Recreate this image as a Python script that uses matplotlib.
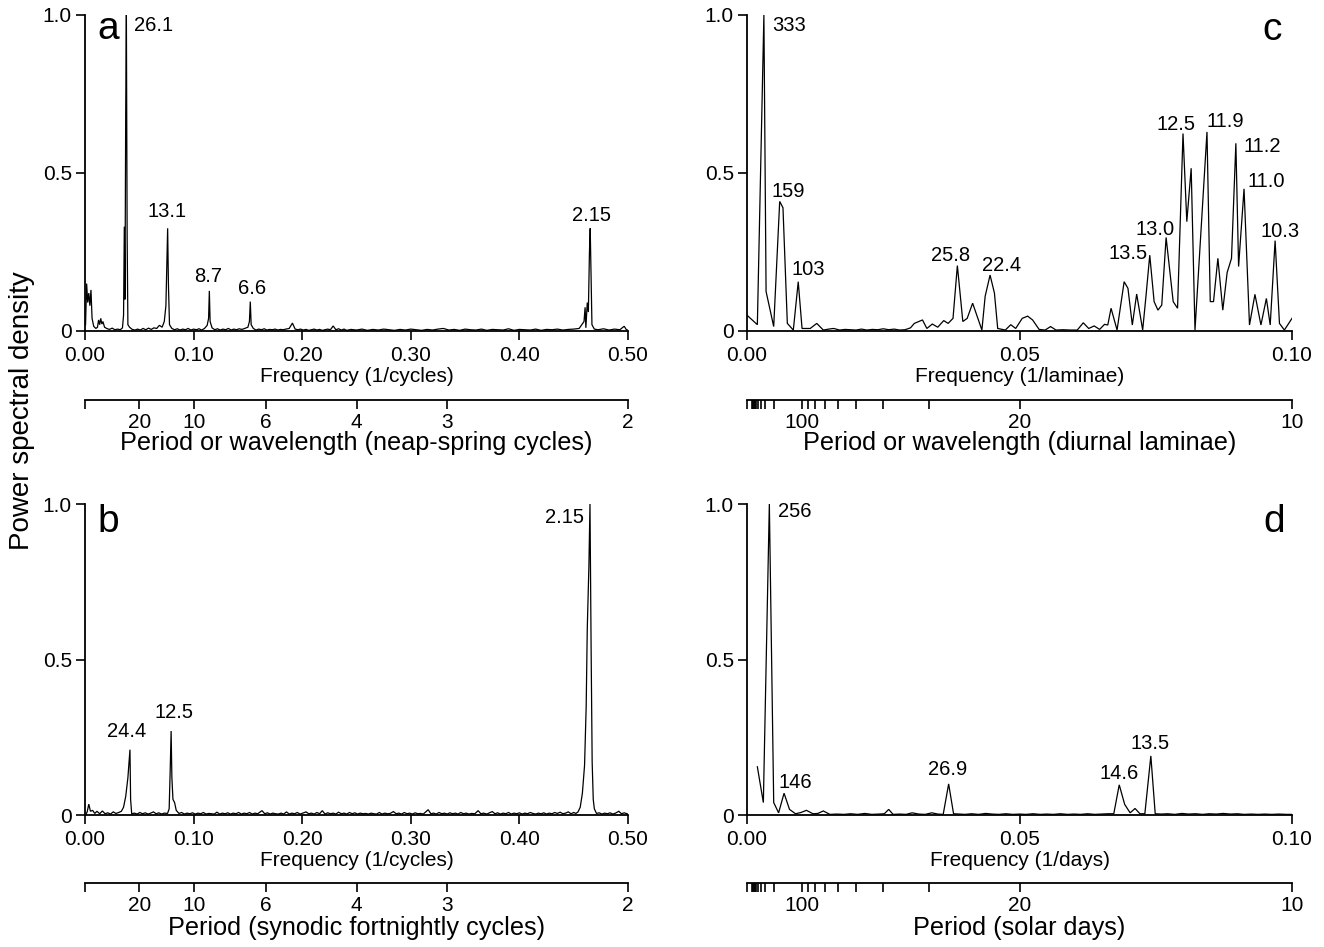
import matplotlib
matplotlib.use("Agg")
import matplotlib.pyplot as plt
import numpy as np

plt.rcParams['font.family'] = ['Liberation Sans', 'DejaVu Sans']

# ---------------- data ----------------
# Panel a: neap-spring cycles, (frequency, normalized power)
spectrum_a = [
    (0.0005, 0.02), (0.0015, 0.15), (0.0025, 0.09), (0.0035, 0.12), (0.0045, 0.08),
    (0.0055, 0.13), (0.0065, 0.04), (0.0080, 0.015), (0.0100, 0.008), (0.0115, 0.012),
    (0.0125, 0.035), (0.0135, 0.020), (0.0145, 0.040), (0.0155, 0.022), (0.0165, 0.030),
    (0.0180, 0.012), (0.0200, 0.008), (0.0225, 0.005), (0.0250, 0.009), (0.0275, 0.004),
    (0.0300, 0.006), (0.0325, 0.004), (0.0345, 0.010), (0.0355, 0.05), (0.0362, 0.33),
    (0.0368, 0.10), (0.0375, 0.70), (0.0381, 1.00), (0.0388, 0.30), (0.0395, 0.02),
    (0.0410, 0.012), (0.0435, 0.005), (0.0460, 0.003), (0.0485, 0.006), (0.0510, 0.003),
    (0.0535, 0.008), (0.0560, 0.004), (0.0585, 0.009), (0.0610, 0.005), (0.0635, 0.010),
    (0.0660, 0.008), (0.0685, 0.018), (0.0710, 0.012), (0.0730, 0.030), (0.0745, 0.080),
    (0.0754, 0.22), (0.0761, 0.325), (0.0768, 0.15), (0.0778, 0.02), (0.0800, 0.008),
    (0.0825, 0.004), (0.0850, 0.007), (0.0875, 0.003), (0.0900, 0.006), (0.0925, 0.004),
    (0.0950, 0.008), (0.0975, 0.003), (0.1000, 0.006), (0.1025, 0.004), (0.1050, 0.007),
    (0.1075, 0.003), (0.1100, 0.008), (0.1125, 0.018), (0.1138, 0.040), (0.1145, 0.127),
    (0.1152, 0.030), (0.1170, 0.010), (0.1195, 0.004), (0.1220, 0.007), (0.1245, 0.003),
    (0.1270, 0.006), (0.1295, 0.004), (0.1320, 0.008), (0.1345, 0.003), (0.1370, 0.006),
    (0.1395, 0.004), (0.1420, 0.007), (0.1445, 0.005), (0.1470, 0.008), (0.1500, 0.012),
    (0.1514, 0.030), (0.1522, 0.093), (0.1530, 0.020), (0.1550, 0.008), (0.1575, 0.003),
    (0.1600, 0.006), (0.1625, 0.004), (0.1650, 0.007), (0.1675, 0.003), (0.1700, 0.005),
    (0.1725, 0.004), (0.1750, 0.006), (0.1775, 0.003), (0.1800, 0.005), (0.1825, 0.004),
    (0.1850, 0.006), (0.1880, 0.008), (0.1910, 0.025), (0.1935, 0.006), (0.1960, 0.004),
    (0.1985, 0.006), (0.2010, 0.003), (0.2035, 0.005), (0.2060, 0.002), (0.2085, 0.004),
    (0.2110, 0.006), (0.2135, 0.003), (0.2160, 0.005), (0.2185, 0.002), (0.2210, 0.004),
    (0.2235, 0.006), (0.2260, 0.004), (0.2285, 0.016), (0.2310, 0.004), (0.2335, 0.007),
    (0.2360, 0.003), (0.2385, 0.006), (0.2410, 0.002), (0.2450, 0.005), (0.2500, 0.003),
    (0.2550, 0.006), (0.2600, 0.002), (0.2650, 0.005), (0.2700, 0.003), (0.2750, 0.006),
    (0.2800, 0.004), (0.2850, 0.002), (0.2900, 0.005), (0.2950, 0.003), (0.3000, 0.006),
    (0.3050, 0.004), (0.3100, 0.002), (0.3150, 0.005), (0.3200, 0.003), (0.3250, 0.006),
    (0.3300, 0.008), (0.3350, 0.003), (0.3400, 0.005), (0.3450, 0.002), (0.3500, 0.006),
    (0.3550, 0.004), (0.3600, 0.003), (0.3650, 0.006), (0.3700, 0.002), (0.3750, 0.005),
    (0.3800, 0.004), (0.3850, 0.003), (0.3900, 0.007), (0.3950, 0.002), (0.4000, 0.005),
    (0.4050, 0.004), (0.4100, 0.003), (0.4150, 0.006), (0.4200, 0.002), (0.4250, 0.005),
    (0.4300, 0.004), (0.4350, 0.006), (0.4400, 0.003), (0.4450, 0.005), (0.4500, 0.006),
    (0.4550, 0.008), (0.4575, 0.020), (0.4595, 0.030), (0.4605, 0.075), (0.4612, 0.010),
    (0.4625, 0.090), (0.4635, 0.060), (0.4645, 0.25), (0.4652, 0.325), (0.4660, 0.18),
    (0.4668, 0.020), (0.4690, 0.006), (0.4725, 0.004), (0.4775, 0.007), (0.4825, 0.003),
    (0.4875, 0.006), (0.4925, 0.004), (0.4965, 0.015), (0.4985, 0.004), (0.5000, 0.003),
]

# Panel b: synodic fortnightly cycles
spectrum_b = [
    (0.0005, 0.000), (0.0020, 0.010), (0.0035, 0.035), (0.0050, 0.012), (0.0070, 0.015),
    (0.0090, 0.005), (0.0110, 0.012), (0.0135, 0.004), (0.0160, 0.013), (0.0185, 0.004),
    (0.0210, 0.007), (0.0235, 0.003), (0.0260, 0.010), (0.0285, 0.005), (0.0310, 0.008),
    (0.0335, 0.012), (0.0355, 0.025), (0.0375, 0.060), (0.0395, 0.120), (0.0408, 0.180),
    (0.0414, 0.210), (0.0420, 0.050), (0.0430, 0.004), (0.0455, 0.006), (0.0480, 0.003),
    (0.0505, 0.008), (0.0530, 0.004), (0.0555, 0.007), (0.0580, 0.003), (0.0605, 0.006),
    (0.0630, 0.010), (0.0655, 0.004), (0.0680, 0.007), (0.0705, 0.003), (0.0730, 0.006),
    (0.0760, 0.005), (0.0775, 0.020), (0.0785, 0.150), (0.0793, 0.270), (0.0800, 0.120),
    (0.0810, 0.050), (0.0825, 0.040), (0.0840, 0.015), (0.0865, 0.005), (0.0890, 0.008),
    (0.0915, 0.003), (0.0940, 0.006), (0.0965, 0.004), (0.0990, 0.007), (0.1015, 0.003),
    (0.1040, 0.006), (0.1065, 0.004), (0.1090, 0.008), (0.1115, 0.003), (0.1140, 0.005),
    (0.1165, 0.004), (0.1190, 0.003), (0.1215, 0.009), (0.1240, 0.003), (0.1265, 0.006),
    (0.1290, 0.004), (0.1315, 0.007), (0.1340, 0.003), (0.1365, 0.006), (0.1390, 0.004),
    (0.1415, 0.008), (0.1440, 0.003), (0.1465, 0.006), (0.1490, 0.004), (0.1515, 0.008),
    (0.1540, 0.003), (0.1565, 0.006), (0.1590, 0.004), (0.1630, 0.014), (0.1655, 0.004),
    (0.1680, 0.007), (0.1705, 0.003), (0.1730, 0.006), (0.1755, 0.004), (0.1780, 0.003),
    (0.1805, 0.006), (0.1830, 0.003), (0.1855, 0.010), (0.1880, 0.003), (0.1905, 0.006),
    (0.1930, 0.004), (0.1955, 0.008), (0.1980, 0.003), (0.2005, 0.006), (0.2035, 0.010),
    (0.2060, 0.004), (0.2085, 0.006), (0.2110, 0.003), (0.2135, 0.008), (0.2160, 0.004),
    (0.2185, 0.014), (0.2210, 0.003), (0.2235, 0.007), (0.2260, 0.004), (0.2285, 0.006),
    (0.2310, 0.003), (0.2335, 0.009), (0.2360, 0.004), (0.2385, 0.006), (0.2410, 0.003),
    (0.2435, 0.008), (0.2460, 0.004), (0.2485, 0.007), (0.2510, 0.003), (0.2535, 0.006),
    (0.2560, 0.004), (0.2585, 0.005), (0.2610, 0.003), (0.2635, 0.006), (0.2660, 0.004),
    (0.2685, 0.003), (0.2710, 0.008), (0.2735, 0.003), (0.2760, 0.006), (0.2785, 0.004),
    (0.2810, 0.005), (0.2840, 0.011), (0.2865, 0.004), (0.2890, 0.006), (0.2915, 0.003),
    (0.2940, 0.008), (0.2965, 0.004), (0.2990, 0.006), (0.3015, 0.003), (0.3040, 0.007),
    (0.3065, 0.004), (0.3090, 0.005), (0.3115, 0.003), (0.3160, 0.017), (0.3185, 0.004),
    (0.3210, 0.006), (0.3235, 0.003), (0.3260, 0.008), (0.3285, 0.004), (0.3310, 0.006),
    (0.3335, 0.003), (0.3360, 0.007), (0.3385, 0.004), (0.3410, 0.006), (0.3435, 0.003),
    (0.3460, 0.008), (0.3485, 0.004), (0.3510, 0.006), (0.3535, 0.003), (0.3560, 0.005),
    (0.3590, 0.004), (0.3620, 0.014), (0.3645, 0.004), (0.3670, 0.006), (0.3700, 0.003),
    (0.3750, 0.011), (0.3775, 0.004), (0.3800, 0.007), (0.3825, 0.003), (0.3850, 0.006),
    (0.3875, 0.004), (0.3900, 0.008), (0.3925, 0.003), (0.3950, 0.006), (0.3975, 0.004),
    (0.4000, 0.007), (0.4025, 0.003), (0.4050, 0.006), (0.4075, 0.004), (0.4100, 0.008),
    (0.4125, 0.005), (0.4150, 0.003), (0.4175, 0.006), (0.4200, 0.004), (0.4225, 0.007),
    (0.4250, 0.003), (0.4275, 0.006), (0.4300, 0.004), (0.4325, 0.008), (0.4350, 0.005),
    (0.4375, 0.009), (0.4400, 0.004), (0.4425, 0.006), (0.4450, 0.010), (0.4475, 0.004),
    (0.4500, 0.008), (0.4520, 0.005), (0.4540, 0.010), (0.4560, 0.025), (0.4580, 0.070),
    (0.4600, 0.160), (0.4615, 0.350), (0.4625, 0.600), (0.4640, 0.800), (0.4650, 1.000),
    (0.4660, 0.550), (0.4670, 0.170), (0.4680, 0.050), (0.4690, 0.020), (0.4710, 0.005),
    (0.4735, 0.007), (0.4760, 0.003), (0.4785, 0.006), (0.4810, 0.004), (0.4835, 0.007),
    (0.4860, 0.003), (0.4885, 0.006), (0.4915, 0.012), (0.4940, 0.004), (0.4965, 0.007),
    (0.5000, 0.003),
]

# Panel c: diurnal laminae
spectrum_c = [
    (0.0000, 0.050), (0.0019, 0.020), (0.0031, 1.000), (0.0035, 0.125), (0.0049, 0.014),
    (0.0060, 0.410), (0.0066, 0.390), (0.0074, 0.024), (0.0085, 0.003), (0.0094, 0.156),
    (0.0101, 0.008), (0.0116, 0.008), (0.0128, 0.024), (0.0140, 0.003), (0.0150, 0.006),
    (0.0159, 0.008), (0.0170, 0.003), (0.0180, 0.005), (0.0190, 0.004), (0.0200, 0.003),
    (0.0210, 0.006), (0.0220, 0.003), (0.0230, 0.005), (0.0240, 0.004), (0.0250, 0.007),
    (0.0260, 0.004), (0.0270, 0.006), (0.0280, 0.003), (0.0290, 0.004), (0.0300, 0.010),
    (0.0307, 0.024), (0.0322, 0.035), (0.0330, 0.008), (0.0340, 0.022), (0.0350, 0.012),
    (0.0361, 0.033), (0.0369, 0.024), (0.0378, 0.040), (0.0386, 0.207), (0.0396, 0.030),
    (0.0404, 0.040), (0.0414, 0.088), (0.0431, 0.003), (0.0437, 0.110), (0.0446, 0.177),
    (0.0454, 0.120), (0.0460, 0.008), (0.0474, 0.003), (0.0484, 0.020), (0.0493, 0.008),
    (0.0505, 0.040), (0.0515, 0.047), (0.0524, 0.035), (0.0536, 0.005), (0.0547, 0.003),
    (0.0557, 0.014), (0.0567, 0.003), (0.0580, 0.004), (0.0593, 0.003), (0.0606, 0.003),
    (0.0617, 0.026), (0.0627, 0.008), (0.0637, 0.016), (0.0647, 0.005), (0.0656, 0.021),
    (0.0662, 0.019), (0.0668, 0.072), (0.0679, 0.003), (0.0692, 0.156), (0.0699, 0.135),
    (0.0707, 0.019), (0.0715, 0.117), (0.0726, 0.003), (0.0732, 0.109), (0.0739, 0.240),
    (0.0747, 0.093), (0.0754, 0.066), (0.0761, 0.082), (0.0769, 0.296), (0.0782, 0.093),
    (0.0790, 0.072), (0.0800, 0.625), (0.0807, 0.346), (0.0815, 0.515), (0.0822, 0.003),
    (0.0844, 0.630), (0.0850, 0.093), (0.0856, 0.093), (0.0864, 0.230), (0.0873, 0.066),
    (0.0881, 0.185), (0.0889, 0.230), (0.0897, 0.594), (0.0902, 0.204), (0.0912, 0.450),
    (0.0922, 0.019), (0.0932, 0.116), (0.0943, 0.019), (0.0953, 0.103), (0.0960, 0.019),
    (0.0969, 0.286), (0.0977, 0.024), (0.0986, 0.003), (0.1000, 0.040),
]

# Panel d: solar days
spectrum_d = [
    (0.0019, 0.155), (0.0030, 0.040), (0.0041, 1.000), (0.0049, 0.040), (0.0058, 0.007),
    (0.0068, 0.070), (0.0078, 0.018), (0.0089, 0.004), (0.0099, 0.008), (0.0109, 0.015),
    (0.0121, 0.004), (0.0130, 0.005), (0.0140, 0.013), (0.0152, 0.002), (0.0165, 0.003),
    (0.0178, 0.002), (0.0190, 0.004), (0.0203, 0.002), (0.0216, 0.005), (0.0229, 0.002),
    (0.0242, 0.003), (0.0252, 0.004), (0.0260, 0.018), (0.0268, 0.002), (0.0280, 0.003),
    (0.0292, 0.002), (0.0303, 0.007), (0.0315, 0.003), (0.0327, 0.002), (0.0339, 0.007),
    (0.0350, 0.003), (0.0360, 0.002), (0.0370, 0.100), (0.0379, 0.004), (0.0390, 0.003),
    (0.0400, 0.002), (0.0412, 0.004), (0.0425, 0.002), (0.0438, 0.005), (0.0450, 0.003),
    (0.0462, 0.002), (0.0475, 0.004), (0.0488, 0.002), (0.0500, 0.003), (0.0512, 0.002),
    (0.0525, 0.004), (0.0538, 0.002), (0.0550, 0.003), (0.0562, 0.002), (0.0575, 0.004),
    (0.0588, 0.002), (0.0600, 0.003), (0.0612, 0.002), (0.0625, 0.004), (0.0638, 0.002),
    (0.0650, 0.003), (0.0662, 0.004), (0.0673, 0.004), (0.0683, 0.097), (0.0693, 0.034),
    (0.0703, 0.007), (0.0712, 0.021), (0.0721, 0.004), (0.0730, 0.004), (0.0741, 0.190),
    (0.0749, 0.004), (0.0760, 0.003), (0.0772, 0.004), (0.0785, 0.002), (0.0798, 0.005),
    (0.0810, 0.003), (0.0823, 0.004), (0.0836, 0.002), (0.0848, 0.004), (0.0861, 0.003),
    (0.0874, 0.005), (0.0887, 0.003), (0.0900, 0.004), (0.0912, 0.002), (0.0925, 0.003),
    (0.0938, 0.002), (0.0950, 0.003), (0.0963, 0.002), (0.0976, 0.003), (0.0990, 0.002),
    (0.1000, 0.002),
]

# Peak annotations: (text, frequency, power, horizontal alignment)
peaks_a = [("26.1", 0.0450, 0.968, "left"), ("13.1", 0.0755, 0.377, "center"),
           ("8.7", 0.1130, 0.171, "center"), ("6.6", 0.1540, 0.136, "center"),
           ("2.15", 0.4660, 0.367, "center")]
peaks_b = [("24.4", 0.0386, 0.267, "center"), ("12.5", 0.0819, 0.328, "center"),
           ("2.15", 0.4413, 0.955, "center")]
peaks_c = [("333", 0.0047, 0.968, "left"), ("159", 0.0076, 0.441, "center"),
           ("103", 0.0112, 0.195, "center"), ("25.8", 0.0373, 0.240, "center"),
           ("22.4", 0.0467, 0.206, "center"), ("13.5", 0.0700, 0.244, "center"),
           ("13.0", 0.0749, 0.322, "center"), ("12.5", 0.0787, 0.655, "center"),
           ("11.9", 0.0878, 0.662, "center"), ("11.2", 0.0946, 0.585, "center"),
           ("11.0", 0.0952, 0.473, "center"), ("10.3", 0.0979, 0.316, "center")]
peaks_d = [("256", 0.0057, 0.976, "left"), ("146", 0.0088, 0.106, "center"),
           ("26.9", 0.0368, 0.145, "center"), ("14.6", 0.0682, 0.134, "center"),
           ("13.5", 0.0739, 0.229, "center")]

# Panel letters: (letter, frequency, power)
letter_a = ("a", 0.0213, 0.955)
letter_b = ("b", 0.0213, 0.942)
letter_c = ("c", 0.0964, 0.952)
letter_d = ("d", 0.0967, 0.942)

# Frequency ticks
freq_ticks_ab = [0.00, 0.10, 0.20, 0.30, 0.40, 0.50]
freq_labels_ab = ["0.00", "0.10", "0.20", "0.30", "0.40", "0.50"]
freq_ticks_cd = [0.00, 0.05, 0.10]
freq_labels_cd = ["0.00", "0.05", "0.10"]

# Period ticks (periods; labelled and unlabelled)
period_major_ab = [20, 10, 6, 4, 3, 2]
period_major_cd = [100, 20, 10]
period_minor_cd = [1000, 900, 800, 700, 600, 500, 400, 300, 200,
                   90, 80, 70, 60, 50, 40, 30]

freq_titles = ["Frequency (1/cycles)", "Frequency (1/cycles)",
               "Frequency (1/laminae)", "Frequency (1/days)"]
period_titles = ["Period or wavelength (neap-spring cycles)",
                 "Period (synodic fortnightly cycles)",
                 "Period or wavelength (diurnal laminae)",
                 "Period (solar days)"]

# ---------------- figure ----------------
W, H = 1324, 947
fig = plt.figure(figsize=(W / 100, H / 100), dpi=100)

TICK_FS = 15
LBL_FS = 15
TITLE_FS = 18.2
ANN_FS = 14.5
LET_FS = 28


def px_rect(x0, x1, ytop, ybot):
    return [x0 / W, 1 - ybot / H, (x1 - x0) / W, (ybot - ytop) / H]


panels = [
    (spectrum_a, peaks_a, letter_a, 0.5, freq_ticks_ab, freq_labels_ab, (85, 628, 15, 331), 400, 377, 443, "ab"),
    (spectrum_b, peaks_b, letter_b, 0.5, freq_ticks_ab, freq_labels_ab, (85, 628, 504, 815), 883, 860, 928, "ab"),
    (spectrum_c, peaks_c, letter_c, 0.1, freq_ticks_cd, freq_labels_cd, (747, 1292, 15, 331), 400, 377, 443, "cd"),
    (spectrum_d, peaks_d, letter_d, 0.1, freq_ticks_cd, freq_labels_cd, (747, 1292, 504, 815), 883, 860, 928, "cd"),
]

for i, panel in enumerate(panels):
    spec, peaks, letter, xmax, fticks, flabels, rect, pline_y, flab_y, ptitle_y, kind = panel
    x0, x1, ytop, ybot = rect
    ax = fig.add_axes(px_rect(x0, x1, ytop, ybot))
    f = np.array([p[0] for p in spec])
    pw = np.array([p[1] for p in spec])
    ax.plot(f, pw, color="black", lw=0.9, solid_joinstyle="miter")
    ax.set_xlim(0, xmax)
    ax.set_ylim(0, 1.0)
    for s in ["top", "right"]:
        ax.spines[s].set_visible(False)
    for s in ["left", "bottom"]:
        ax.spines[s].set_linewidth(1.3)
    ax.set_yticks([0, 0.5, 1.0])
    ax.set_yticklabels(["0", "0.5", "1.0"])
    ax.set_xticks(fticks)
    ax.set_xticklabels(flabels)
    ax.tick_params(axis="both", direction="out", length=6.5, width=1.2,
                   labelsize=TICK_FS, pad=3)
    ax.tick_params(axis="x", pad=4)
    ax.text(0.5, -(flab_y - ybot) / (ybot - ytop), freq_titles[i],
            transform=ax.transAxes, ha="center", va="center", fontsize=LBL_FS)
    for txt, fx, py, ha in peaks:
        ax.text(fx, py, txt, ha=ha, va="center", fontsize=ANN_FS)
    ax.text(letter[1], letter[2], letter[0], ha="center", va="center", fontsize=LET_FS)

    # period axis
    pax = fig.add_axes([x0 / W, 1 - pline_y / H, (x1 - x0) / W, 0.0005])
    pax.set_xlim(0, xmax)
    pax.set_ylim(0, 1)
    pax.set_yticks([])
    pax.patch.set_visible(False)
    for s in ["top", "right", "left"]:
        pax.spines[s].set_visible(False)
    pax.spines["bottom"].set_linewidth(1.3)
    if kind == "ab":
        major_periods = period_major_ab
        minor_periods = []
    else:
        major_periods = period_major_cd
        minor_periods = period_minor_cd
    pax.set_xticks([0.0] + [1.0 / p for p in major_periods])
    pax.set_xticklabels([""] + [str(p) for p in major_periods])
    pax.set_xticks([1.0 / p for p in minor_periods], minor=True)
    pax.tick_params(axis="x", which="both", direction="out", length=6.5, width=1.2,
                    labelsize=TICK_FS, pad=3)
    fig.text((x0 + x1) / 2 / W, 1 - ptitle_y / H, period_titles[i],
             ha="center", va="center", fontsize=TITLE_FS)

fig.text(22 / W, 1 - 411 / H, "Power spectral density", rotation=90,
         ha="center", va="center", fontsize=20)

fig.savefig("out.png", dpi=100)
